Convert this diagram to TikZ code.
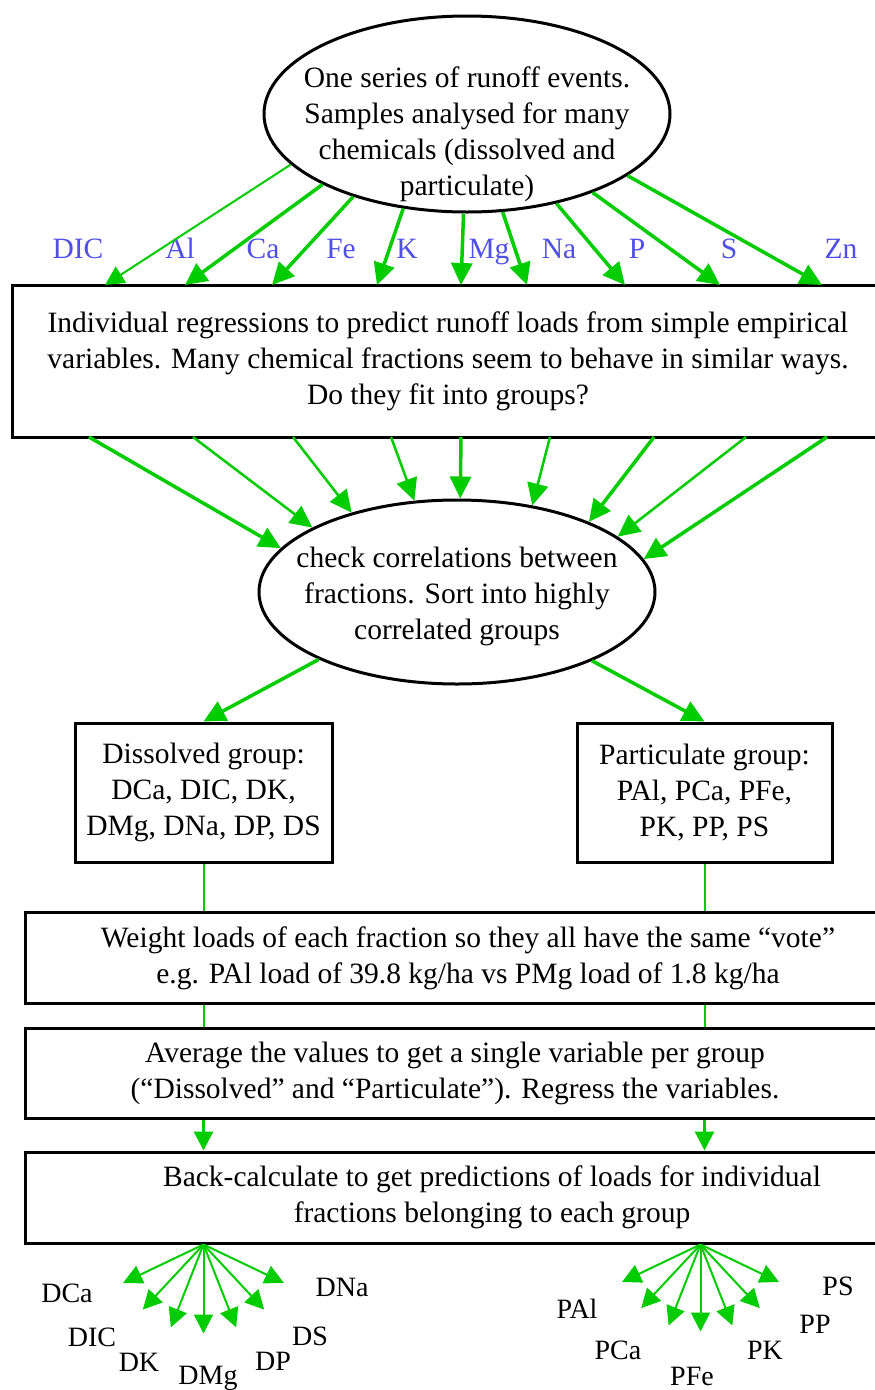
\documentclass[tikz,border=0pt]{standalone}
\usepackage{fontspec}
\setmainfont{Liberation Serif}
\usetikzlibrary{shapes.geometric,arrows.meta,positioning,calc}
\definecolor{flowGreen}{RGB}{0,204,0}
\definecolor{elemBlue}{RGB}{80,80,230}

\begin{document}
\begin{tikzpicture}[x=1pt,y=-1pt,
    every node/.style={font=\fontsize{29.5}{36}\selectfont},
    stepbox/.style={draw,line width=3pt,rectangle,inner sep=0pt,align=center},
    bubble/.style={draw,line width=3pt,ellipse,inner sep=0pt},
    elem/.style={text=elemBlue,anchor=base,inner sep=0pt},
    frac/.style={anchor=base,inner sep=0pt,font=\fontsize{28}{34}\selectfont},
    flow/.style={flowGreen,line width=3.5pt,-{Triangle[length=22pt,width=21pt]}},
    thinflow/.style={flowGreen,line width=2pt,-{Triangle[length=19pt,width=19pt]}},
    link/.style={flowGreen,line width=2pt}]

  \useasboundingbox (0,0) rectangle (875,1390);
  \fill[white] (0,0) rectangle (875,1390);

  % --- TOP: the runoff samples ---
  \node[bubble,minimum width=406pt,minimum height=196pt] (runoff) at (467,114) {};
  \node[align=center] (runofftxt) at (467,134)
    {One series of runoff events.\\Samples analysed for many\\chemicals (dissolved and\\particulate)};

  % Chemical names
  \foreach \name/\x in {DIC/78,Al/180,Ca/263,Fe/341,K/407,Mg/489,Na/559,P/637,S/729,Zn/841}
    \node[elem] (lab\name) at (\x,258) {\name};

  % Individual regressions
  \node[stepbox,minimum width=872pt,minimum height=152pt] (regress) at (448,361)
    {Individual regressions to predict runoff loads from simple empirical\\
     variables. Many chemical fractions seem to behave in similar ways.\\
     Do they fit into groups?};

  % Arrows into the regressions
  \coordinate (in0) at (105,285);
  \draw[thinflow] (runoff.196.8) -- (in0);
  \foreach \a/\x [count=\i] in {206.4/185,216.9/272,236.9/377,268/461,290/527,315/625,328.4/720,339.3/822}{
    \coordinate (in\i) at (\x,285);
    \draw[flow] (runoff.\a) -- (in\i);
  }

  % --- MIDDLE: correlations ---
  \node[bubble,minimum width=396pt,minimum height=184pt] (corr) at (457,592) {};
  \node[align=center] (corrtxt) at (457,596)
    {check correlations between\\fractions. Sort into highly\\correlated groups};

  \foreach \x/\a/\w [count=\i] in {89/166.6/3.5,193/156.9/2.5,293/143.8/2.5,391/115/2.5,461/88/3.5,550/49/2.5,654/28/3.5,746/19.3/2.5,827/10.8/3.5}{
    \coordinate (out\i) at (\x,437);
    \draw[flow,line width=\w pt] (out\i) -- (corr.\a);
  }

  % Groups
  \node[stepbox,minimum width=257pt,minimum height=139pt] (dis) at (203.5,792.5)
    {Dissolved group:\\DCa, DIC, DK,\\DMg, DNa, DP, DS};
  \node[stepbox,minimum width=255pt,minimum height=139pt] (par) at (704.5,792.5)
    {Particulate group:\\PAl, PCa, PFe,\\PK, PP, PS};
  \draw[flow] (corr.206.4) -- (dis.north);
  \draw[flow] (corr.333.8) -- (par.north);

  % --- BOTTOM: weighting, averaging, back-calculation ---
  \node[stepbox,minimum width=886pt,minimum height=91pt] (weight) at (468,958)
    {Weight loads of each fraction so they all have the same “vote”\\
     e.g. PAl load of 39.8 kg/ha vs PMg load of 1.8 kg/ha};
  \node[stepbox,minimum width=860pt,minimum height=90pt] (avg) at (455,1073)
    {Average the values to get a single variable per group\\
     (“Dissolved” and “Particulate”). Regress the variables.};
  \node[stepbox,minimum width=934pt,minimum height=91pt] (back) at (492,1197.5)
    {Back-calculate to get predictions of loads for individual\\
     fractions belonging to each group};

  \foreach \grp in {dis,par}{
    \draw[link] (\grp.south) -- (\grp.south |- weight.north);
    \draw[link] (\grp.south |- weight.south) -- (\grp.south |- avg.north);
    \draw[thinflow,line width=3pt] (\grp.south |- avg.south) -- (\grp.south |- back.north);
  }

  % Fans to the fractions
  \coordinate (dfan) at (dis.south |- back.south);
  \coordinate (pfan) at ($(par.south |- back.south)+(-4,0)$);
  \foreach \k [count=\i] in {-3,...,3}{
    \draw[thinflow] (dfan) -- ++({90+21.5*\k}:89) coordinate (dtip\i);
    \draw[thinflow] (pfan) -- ++({90+21.5*\k}:87) coordinate (ptip\i);
  }

  % Fraction names
  \foreach \name/\x/\y in {DCa/67/1302,DIC/92/1346,DK/139/1371,DMg/208/1384,DP/273/1370,DS/310/1345,DNa/342/1296,
                           PAl/577/1318,PCa/618/1359,PFe/692/1385,PK/765/1359,PP/815/1333,PS/838/1295}
    \node[frac] (f\name) at (\x,\y) {\name};
\end{tikzpicture}
\end{document}
